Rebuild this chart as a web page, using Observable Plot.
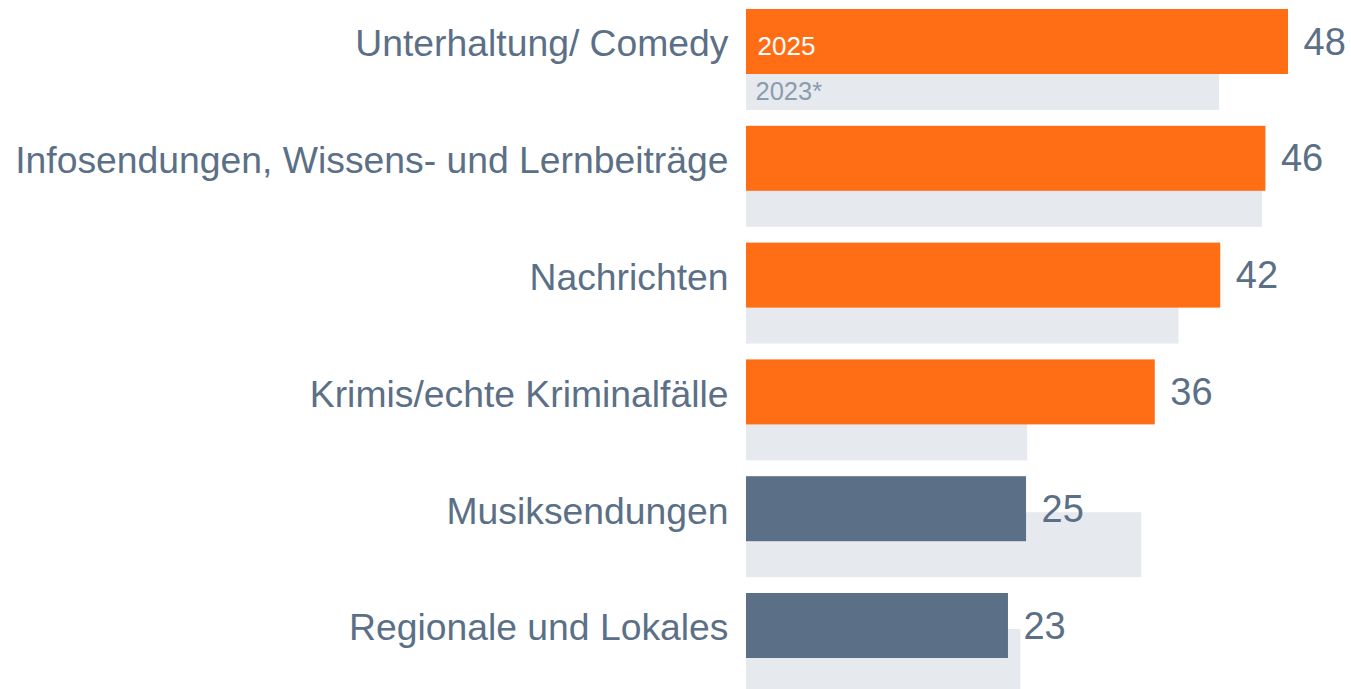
<!DOCTYPE html>
<html>
<head>
<meta charset="utf-8">
<script src="https://cdn.jsdelivr.net/npm/d3@7"></script>
<script src="https://cdn.jsdelivr.net/npm/@observablehq/plot@0.6"></script>
<style>
  html, body { margin: 0; padding: 0; background: #ffffff; overflow: hidden; }
  #chart svg { display: block; }
</style>
</head>
<body>
<div id="chart"></div>
<script>
const categories = [
  "Unterhaltung/ Comedy",
  "Infosendungen, Wissens- und Lernbeiträge",
  "Nachrichten",
  "Krimis/echte Kriminalfälle",
  "Musiksendungen",
  "Regionale und Lokales"
];
const values2025 = [48, 46, 42, 36.2, 24.8, 23.2];
const values2023 = [41.9, 45.7, 38.3, 24.9, 35.0, 24.3];
const labels2025 = ["48", "46", "42", "36", "25", "23"];
const barColors = ["#ff6d14", "#ff6d14", "#ff6d14", "#ff6d14", "#5b7086", "#5b7086"];
const seriesLabels = ["2025", "2023*"];

const rows = categories.map((c, i) => ({
  cat: c, v25: values2025[i], v23: values2023[i], color: barColors[i], label: labels2025[i]
}));

const textColor = "#5b7086";

const chart = Plot.plot({
  width: 1351,
  height: 689,
  marginLeft: 746,
  marginRight: 63,
  marginTop: 0,
  marginBottom: 0,
  style: { fontFamily: "'Liberation Sans', Arial, sans-serif", background: "#ffffff" },
  x: { domain: [0, 48], axis: null },
  y: { domain: categories, range: [0, 700.8], padding: 0, round: false, axis: null },
  color: { type: "identity" },
  marks: [
    Plot.barX(rows, { x: "v23", y: "cat", fill: "#e6e9ee", insetTop: 45, insetBottom: 6.8 }),
    Plot.barX(rows, { x: "v25", y: "cat", fill: "color", insetTop: 9, insetBottom: 42.8 }),
    Plot.text(rows, { x: "v25", y: "cat", text: "label", dx: 15, dy: -16.5, textAnchor: "start", fontSize: 38, fill: textColor }),
    Plot.text(rows, { x: () => 0, y: "cat", text: "cat", dx: -18, dy: -14.5, textAnchor: "end", fontSize: 37.3, fill: textColor }),
    Plot.text([rows[0]], { x: () => 0, y: "cat", text: () => seriesLabels[0], dx: 11, dy: -12.7, textAnchor: "start", fontSize: 26, fill: "#ffffff" }),
    Plot.text([rows[0]], { x: () => 0, y: "cat", text: () => seriesLabels[1], dx: 9, dy: 33.4, textAnchor: "start", fontSize: 25.5, fill: "#8a9cb0" })
  ]
});

document.getElementById("chart").appendChild(chart);
</script>
</body>
</html>
